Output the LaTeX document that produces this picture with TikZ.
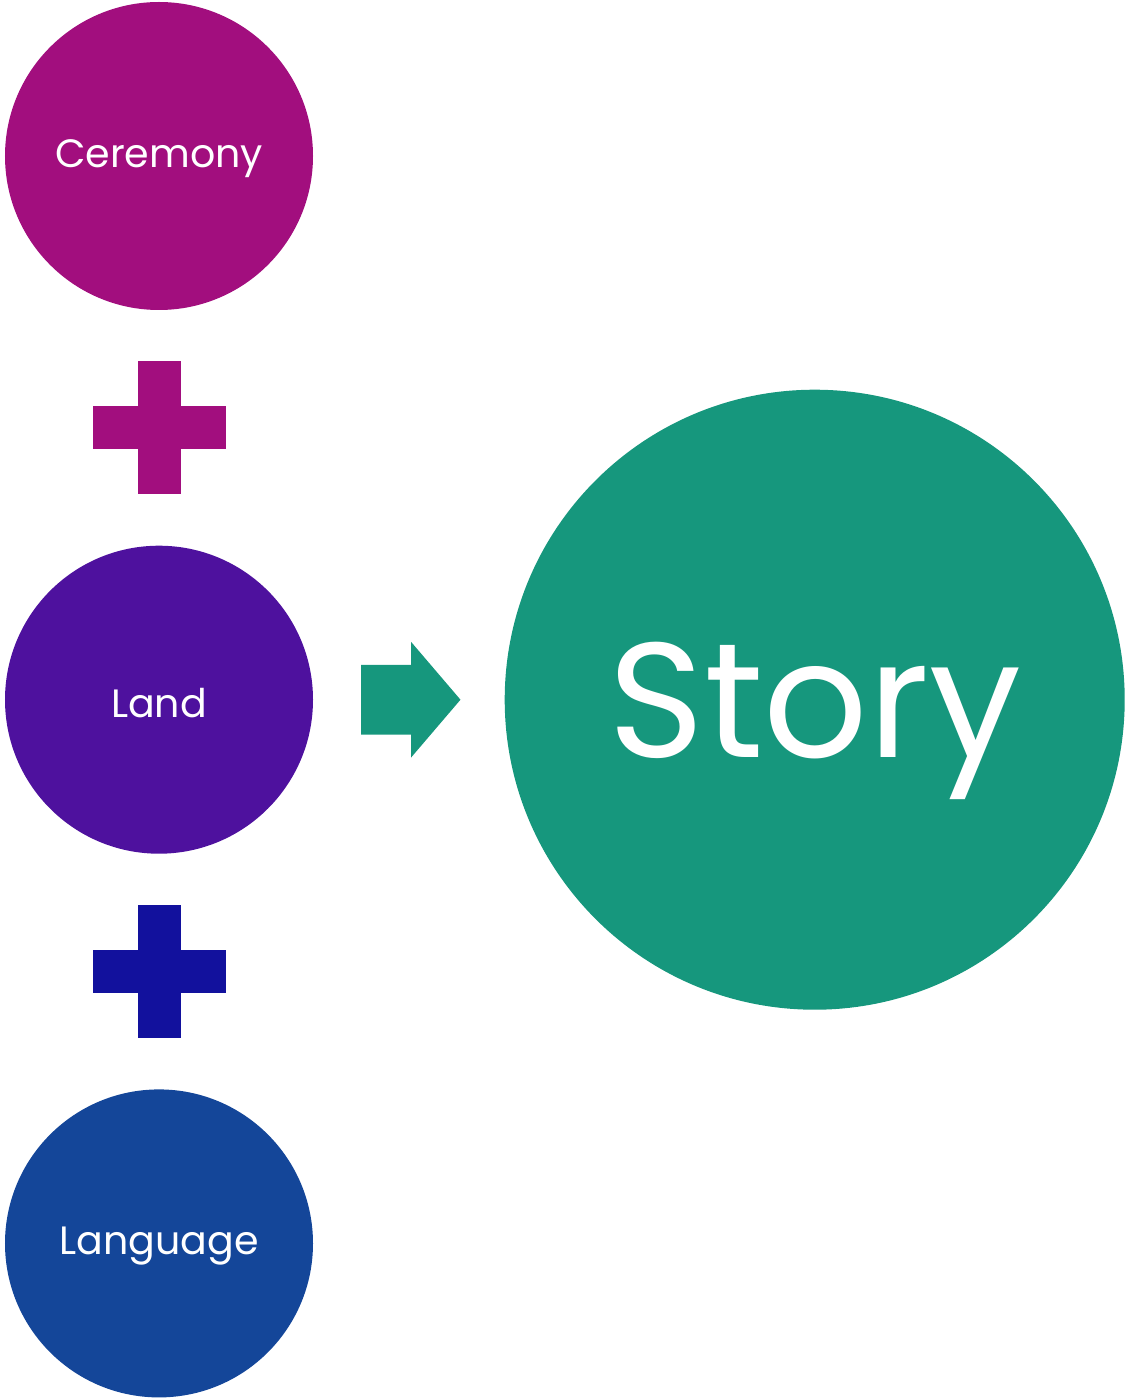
\documentclass[tikz,border=0pt]{standalone}
\usepackage{fontspec}
\setmainfont{Poppins}
\usetikzlibrary{shapes.arrows, positioning, calc}

\definecolor{ceremonyC}{HTML}{A20E7E}
\definecolor{landC}{HTML}{4E119E}
\definecolor{plusC}{HTML}{12119D}
\definecolor{languageC}{HTML}{144699}
\definecolor{storyC}{HTML}{16977D}

% lower a label without changing its box
\newcommand{\lowered}[2]{\raisebox{-#1}[\height][\depth]{#2}}

\begin{document}
\begin{tikzpicture}[
    font=\fontsize{22.5}{22.5}\selectfont,
    item/.style={
      circle, fill=#1, text=white,
      minimum size=6.16cm, inner sep=0pt
    },
    bigitem/.style={
      circle, fill=storyC, text=white,
      minimum size=12.4cm, inner sep=0pt,
      font=\fontsize{93}{93}\selectfont
    },
    bar/.style={fill=#1, inner sep=0pt, minimum width=0.86cm, minimum height=2.66cm},
    blockarr/.style={
      single arrow, fill=storyC, inner sep=0.69cm,
      single arrow head extend=0.46cm, single arrow tip angle=99,
      minimum height=1.98cm
    }
  ]
  \useasboundingbox (0,0) rectangle (22.54,-27.98);

  % ===== Left column =====
  \node[item=ceremonyC] (ceremony) at (3.18,-3.12) {\lowered{0.06cm}{Ceremony}};
  \node[item=landC, below=4.7cm of ceremony] (land) {\lowered{0.06cm}{Land}};
  \node[item=languageC, below=4.7cm of land] (language) {\lowered{0.06cm}{Language}};

  % ===== Plus signs =====
  \coordinate (plusA) at ($(ceremony)!0.5!(land)$);
  \coordinate (plusB) at ($(land)!0.5!(language)$);
  \node[bar=ceremonyC] at (plusA) {};
  \node[bar=ceremonyC, rotate=90] at (plusA) {};
  \node[bar=plusC] at (plusB) {};
  \node[bar=plusC, rotate=90] at (plusB) {};

  % ===== Result =====
  \node[bigitem, right=3.82cm of land] (story) {\lowered{0.42cm}{Story}};
  \node[blockarr] (arrow) at ([xshift=-0.26cm]$(land.east)!0.5!(story.west)$) {};
\end{tikzpicture}
\end{document}
